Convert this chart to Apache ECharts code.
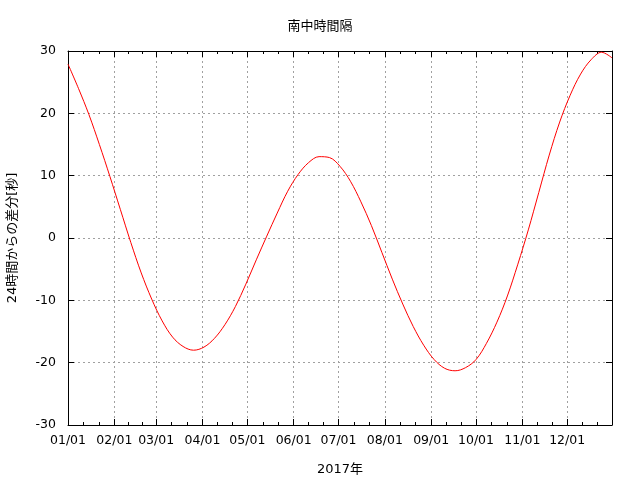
<!DOCTYPE html>
<html>
<head>
<meta charset="utf-8">
<script src="https://cdn.jsdelivr.net/npm/echarts@6/dist/echarts.min.js"></script>
<style>html,body{margin:0;padding:0;background:#fff}#c{width:640px;height:480px}</style>
</head>
<body>
<div id="c"></div>
<script>
const titleText = '南中時間隔';
const xAxisName = '2017年';
const yAxisName = '24時間からの差分[秒]';
const dates = [
  '2017-01-01','2017-01-08','2017-01-15','2017-01-22','2017-01-29',
  '2017-02-05','2017-02-12','2017-02-19','2017-02-26',
  '2017-03-05','2017-03-12','2017-03-19','2017-03-26',
  '2017-04-02','2017-04-09','2017-04-16','2017-04-23','2017-04-30',
  '2017-05-07','2017-05-14','2017-05-21','2017-05-28',
  '2017-06-04','2017-06-11','2017-06-18','2017-06-25',
  '2017-07-02','2017-07-09','2017-07-16','2017-07-23','2017-07-30',
  '2017-08-06','2017-08-13','2017-08-20','2017-08-27',
  '2017-09-03','2017-09-10','2017-09-17','2017-09-24',
  '2017-10-01','2017-10-08','2017-10-15','2017-10-22','2017-10-29',
  '2017-11-05','2017-11-12','2017-11-19','2017-11-26',
  '2017-12-03','2017-12-10','2017-12-17','2017-12-24','2017-12-31'
];
const values = [
  27.9, 24.0, 19.8, 15.0, 9.9,
  4.6, -0.7, -5.6, -9.8,
  -13.3, -15.9, -17.4, -18.0,
  -17.5, -16.1, -13.9, -11.0, -7.4,
  -3.5, 0.3, 4.0, 7.5,
  10.2, 12.1, 13.05, 12.9,
  11.5, 9.1, 5.8, 2.0, -2.3,
  -6.6, -10.6, -14.2, -17.2,
  -19.5, -20.9, -21.3, -20.8,
  -19.5, -16.9, -13.5, -9.3, -4.2,
  1.3, 7.3, 13.3, 18.6,
  22.9, 26.3, 28.6, 29.8, 28.9
];
const yMin = -30, yMax = 30, yStep = 10;
const xMin = '2017-01-01', xMax = '2017-12-31';

const font = 'DejaVu Sans';
const cjk = '"DejaVu Sans", "Noto Sans CJK JP"';
const DAY = 86400000;
const gridStyle = {color: '#a0a0a0', width: 1, type: [2, 3]};

const chart = echarts.init(document.getElementById('c'), null, {renderer: 'canvas'});
const common = {
  type: 'time', min: xMin, max: xMax,
  minInterval: 28 * DAY, maxInterval: 31 * DAY,
  axisLine: {show: true, onZero: false, lineStyle: {color: '#000', width: 1}},
  axisTick: {show: true, inside: true, length: 6, lineStyle: {color: '#000'}},
  minorTick: {show: true, splitNumber: 3, length: 3, lineStyle: {color: '#000'}}
};
chart.setOption({
  animation: false,
  backgroundColor: '#fff',
  title: {
    text: titleText, left: 'center', top: 15,
    textStyle: {fontFamily: cjk, fontSize: 13, fontWeight: 'normal', color: '#000'}
  },
  grid: {left: 68, right: 28, top: 51, bottom: 55, containLabel: false, outerBoundsMode: 'none'},
  xAxis: [
    Object.assign({}, common, {
      position: 'bottom',
      name: xAxisName, nameLocation: 'middle', nameGap: 38,
      nameTextStyle: {fontFamily: cjk, fontSize: 13, color: '#000'},
      axisLabel: {show: true, formatter: '{MM}/{dd}', margin: 9, fontFamily: font, fontSize: 12.5, color: '#000', hideOverlap: false, showMinLabel: true, showMaxLabel: false},
      splitLine: {show: true, lineStyle: gridStyle}
    }),
    Object.assign({}, common, {
      position: 'top',
      axisLabel: {show: false},
      splitLine: {show: false}
    })
  ],
  yAxis: [
    {
      type: 'value', min: yMin, max: yMax, interval: yStep, position: 'left',
      name: yAxisName, nameLocation: 'middle', nameGap: 49, nameRotate: 90,
      nameTextStyle: {fontFamily: cjk, fontSize: 13, color: '#000'},
      axisLine: {show: true, lineStyle: {color: '#000', width: 1}},
      axisTick: {show: true, inside: true, length: 6, lineStyle: {color: '#000'}},
      axisLabel: {margin: 12, fontFamily: font, fontSize: 12.5, color: '#000'},
      splitLine: {show: true, lineStyle: gridStyle}
    },
    {
      type: 'value', min: yMin, max: yMax, interval: yStep, position: 'right',
      axisLine: {show: true, lineStyle: {color: '#000', width: 1}},
      axisTick: {show: true, inside: true, length: 6, lineStyle: {color: '#000'}},
      axisLabel: {show: false},
      splitLine: {show: false}
    }
  ],
  series: [{
    type: 'line',
    data: dates.map((d, i) => [d, values[i]]),
    showSymbol: false,
    smooth: 0.35,
    lineStyle: {color: '#ff0000', width: 1},
    itemStyle: {color: '#ff0000'},
    xAxisIndex: 0, yAxisIndex: 0
  }]
});
</script>
</body>
</html>
